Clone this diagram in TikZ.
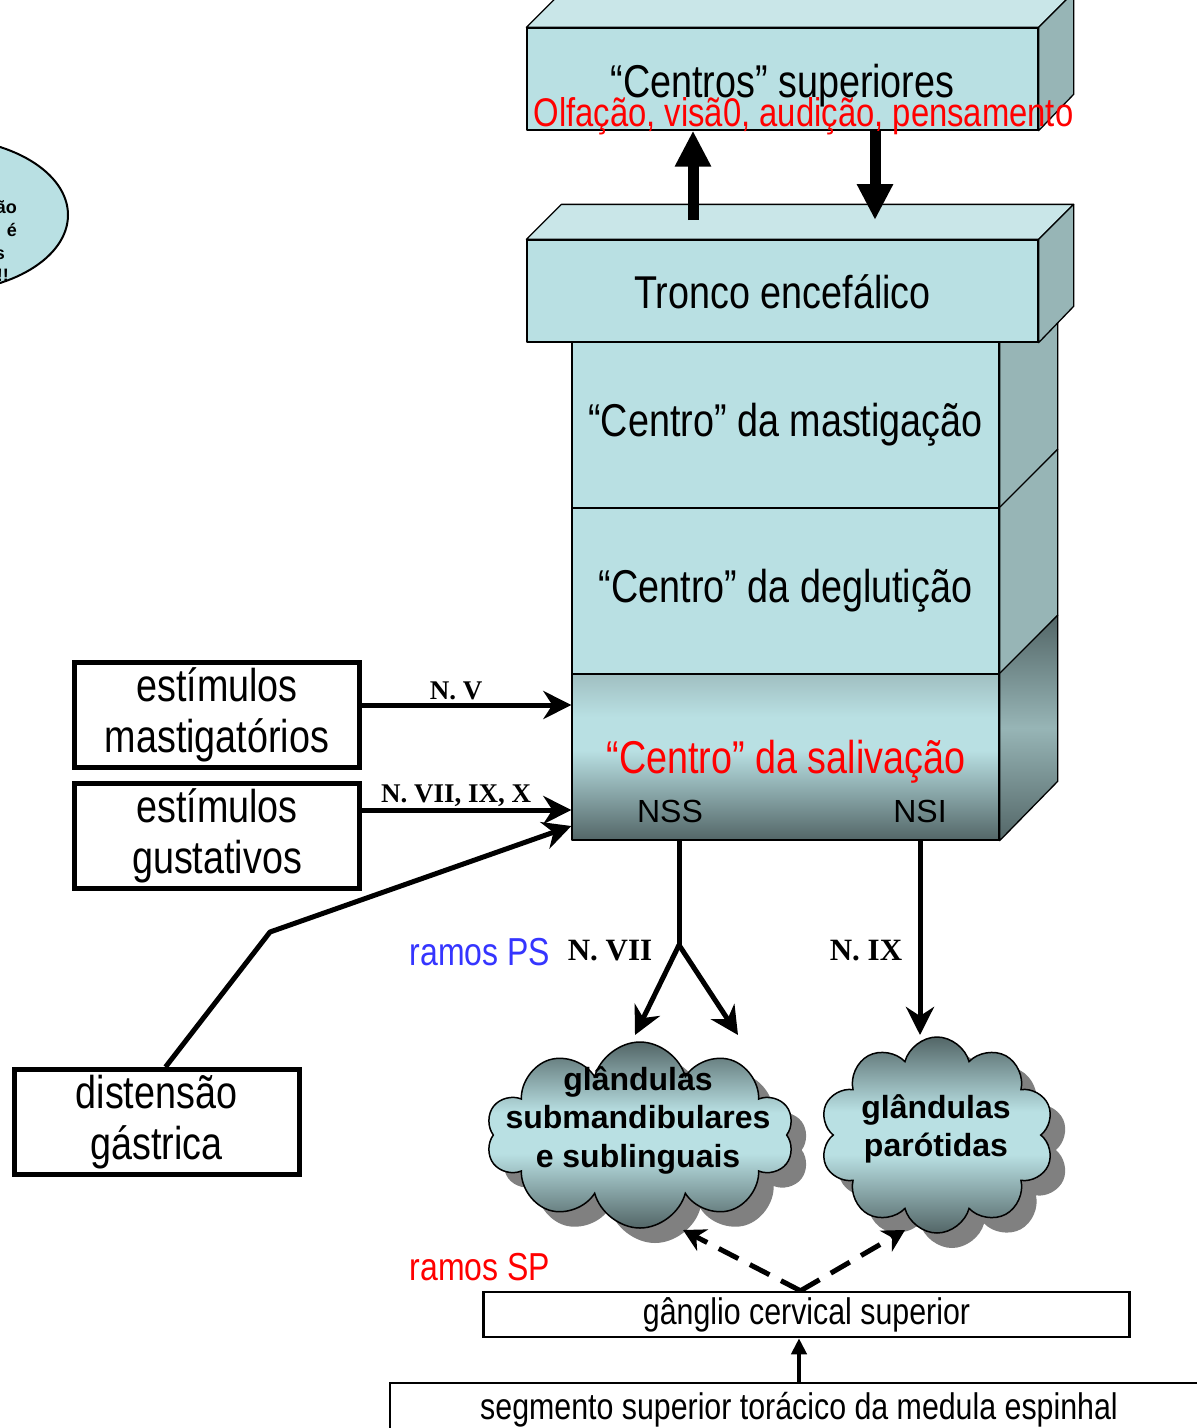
\documentclass[tikz,border=0pt]{standalone}
\usepackage{fontspec}
\setmainfont{Liberation Sans}[FakeStretch=0.82]
\newfontfamily\arialfont{Liberation Sans}
\newfontfamily\timesfont{Liberation Serif}
\usetikzlibrary{arrows.meta,shapes.symbols,shapes.geometric,shadows}

\definecolor{faceteal}{HTML}{B9E0E3}
\definecolor{topteal}{HTML}{C9E6E8}
\definecolor{sideteal}{HTML}{97B5B6}
\definecolor{darkteal}{HTML}{536667}
\definecolor{midteal}{HTML}{A0BFC1}
\definecolor{psblue}{HTML}{3535FF}

\pgfdeclareverticalshading{salivfront}{100bp}{color(0bp)=(darkteal); color(25bp)=(darkteal); color(52bp)=(faceteal); color(62bp)=(faceteal); color(75bp)=(midteal); color(100bp)=(midteal)}
\pgfdeclareverticalshading{salivside}{100bp}{color(0bp)=(darkteal); color(25bp)=(darkteal); color(50bp)=(sideteal); color(75bp)=(darkteal); color(100bp)=(darkteal)}
\pgfdeclareverticalshading{cloudfill}{100bp}{color(0bp)=(darkteal); color(25bp)=(darkteal); color(45bp)=(faceteal); color(56bp)=(faceteal); color(75bp)=(darkteal); color(100bp)=(darkteal)}

\begin{document}
\begin{tikzpicture}[x=1pt, y=-1pt,
    face/.style={draw, line width=1.3pt, inner sep=0pt, line join=round},
    bigtxt/.style={font=\fontsize{46}{52}\selectfont},
    stimbox/.style={draw, line width=5pt, minimum width=285pt, minimum height=105pt, inner sep=0pt, align=center, font=\fontsize{46}{51}\selectfont},
    nerve/.style={line width=5pt, -{Stealth[length=28pt, width=28pt, inset=9pt]}},
    bigarrow/.style={line width=11pt, -{Triangle[length=36pt, width=34pt]}},
    nlabel/.style={font=\timesfont\bfseries\fontsize{27}{29}\selectfont},
    gland/.style={cloud, cloud puffs=10, draw, line width=1.5pt, shade, shading=cloudfill, inner sep=0pt,
      drop shadow={fill=black!50, shadow xshift=15pt, shadow yshift=-15pt, opacity=1}},
    glandtxt/.style={align=center, font=\arialfont\bfseries\fontsize{32}{38.5}\selectfont},
    spdash/.style={line width=5pt, dash pattern=on 22pt off 13pt, -{Stealth[length=22pt, width=24pt, inset=7pt]}}]
\useasboundingbox (0,0) rectangle (1197,1428);
\clip (0,0) rectangle (1197,1428);

% note bubble cut by the left edge
\node[ellipse, draw, line width=2pt, fill=faceteal, minimum width=256pt, minimum height=154pt] (note) at (-60,215) {};
\foreach \t/\r/\y [count=\i] in {ão/17/213, é/17/236, s/5/259, !!/9/281}
    \node[font=\arialfont\bfseries\fontsize{18}{20}\selectfont, anchor=base east, inner sep=0pt] (note\i) at (\r,\y) {\t};

% column of centres
\foreach \n/\y/\t in {mast/425/{“Centro” da mastigação}, degl/591/{“Centro” da deglutição}} {
    \node[face, fill=faceteal, minimum width=427pt, minimum height=166pt, bigtxt] (\n) at (785.5,\y) {\t};
    \path[face, fill=sideteal] (\n.north east) -- ++(58,-58) -- ++(0,166) -- (\n.south east) -- cycle;
}
\node[face, shade, shading=salivfront, minimum width=427pt, minimum height=166pt] (saliv) at (785.5,757) {};
\path[face, shade, shading=salivside] (saliv.north east) -- ++(58,-58) -- ++(0,166) -- (saliv.south east) -- cycle;
\node[bigtxt, text=red, anchor=base] (salivtxt) at (786,773) {“Centro” da salivação};
\node[font=\arialfont\fontsize{32}{34}\selectfont, anchor=base] (nss) at (670,822) {NSS};
\node[font=\arialfont\fontsize{32}{34}\selectfont, anchor=base] (nsi) at (920,822) {NSI};

% tronco and upper centres
\foreach \n/\y in {tronco/291, sup/79} {
    \node[face, fill=faceteal, minimum width=511pt, minimum height=102pt] (\n) at (782.5,\y) {};
    \path[face, fill=topteal] (\n.north west) -- ++(35,-35) -- ([shift={(35,-35)}]\n.north east) -- (\n.north east) -- cycle;
    \path[face, fill=sideteal] (\n.north east) -- ++(35,-35) -- ++(0,102) -- (\n.south east) -- cycle;
}
\node[bigtxt, anchor=base] (troncotxt) at (782.5,308) {Tronco encefálico};
\node[bigtxt, anchor=base] (suptxt) at (782.5,97) {“Centros” superiores};
\node[font=\fontsize{40}{44}\selectfont, text=red, anchor=base] (senses) at (803.5,126) {Olfação, visã0, audição, pensamento};

\coordinate (upfoot) at (693,220);
\coordinate (downtip) at (875,220);
\draw[bigarrow] (upfoot) -- (upfoot |- sup.south);
\draw[bigarrow] (downtip |- sup.south) -- (downtip);

% afferent stimuli
\node[stimbox] (mastbox) at (217,715) {estímulos\\mastigatórios};
\node[stimbox] (gustbox) at (217,836) {estímulos\\gustativos};
\node[stimbox] (distbox) at (156.5,1122) {distensão\\gástrica};
\coordinate (gastrobend) at (270,932);

\draw[nerve] ([yshift=10pt]mastbox.east) -- ([yshift=10pt]mastbox.east -| saliv.west)
    node[pos=0.45, above, nlabel, inner sep=3pt] (nv) {N. V};
\draw[nerve] ([yshift=26pt]gustbox.east) -- ([yshift=26pt]gustbox.east -| saliv.west)
    node[pos=0.45, above, nlabel, inner sep=1pt] (nvii) {N. VII, IX, X};
\draw[nerve, line join=round] ([xshift=9pt]distbox.north) -- (gastrobend) -- ([yshift=-69pt]saliv.west);

% glands
\node[gland, minimum width=308pt, minimum height=186pt] (subl) at (640,1135) {};
\node[gland, minimum width=234pt, minimum height=196pt] (parot) at (937,1135) {};
\node[glandtxt] (subltxt) at (638,1120) {glândulas\\submandibulares\\e sublinguais};
\node[glandtxt] (parottxt) at (936,1129) {glândulas\\parótidas};

\coordinate (fork) at (679,945);
\coordinate (subltipl) at (635,1035);
\coordinate (subltipr) at (738,1035);
\coordinate (parottip) at (920,1035);
\draw[line width=5pt] (fork |- saliv.south) -- (fork);
\draw[nerve] (fork) -- (subltipl);
\draw[nerve] (fork) -- (subltipr);
\draw[nerve] (parottip |- saliv.south) -- (parottip);
\node[nlabel, font=\timesfont\bfseries\fontsize{31}{33}\selectfont, anchor=base] (nvii2) at (610,960) {N. VII};
\node[nlabel, font=\timesfont\bfseries\fontsize{31}{33}\selectfont, anchor=base] (nix) at (866,960) {N. IX};
\node[font=\fontsize{39}{42}\selectfont, text=psblue, anchor=base] (ramosps) at (480,965) {ramos PS};

% sympathetic way
\node[draw, line width=2.5pt, minimum width=646pt, minimum height=45pt, inner sep=0pt, font=\fontsize{37}{40}\selectfont] (gang) at (806.5,1314.5) {gânglio cervical superior};
\node[draw, line width=2.5pt, minimum width=818pt, minimum height=54pt, inner sep=0pt, font=\fontsize{37}{40}\selectfont] (segbox) at (799,1410) {segmento superior torácico da medula espinhal};
\node[font=\fontsize{39}{42}\selectfont, text=red, anchor=base] (ramossp) at (480,1280) {ramos SP};
\coordinate (sptipl) at (683,1230);
\coordinate (sptipr) at (905,1230);
\draw[spdash] ([xshift=-6pt]gang.north) -- (sptipl);
\draw[spdash] ([xshift=-6pt]gang.north) -- (sptipr);
\draw[line width=4pt, -{Triangle[length=16pt, width=15pt]}] (segbox.north) -- (segbox.north |- gang.south);
\end{tikzpicture}
\end{document}
